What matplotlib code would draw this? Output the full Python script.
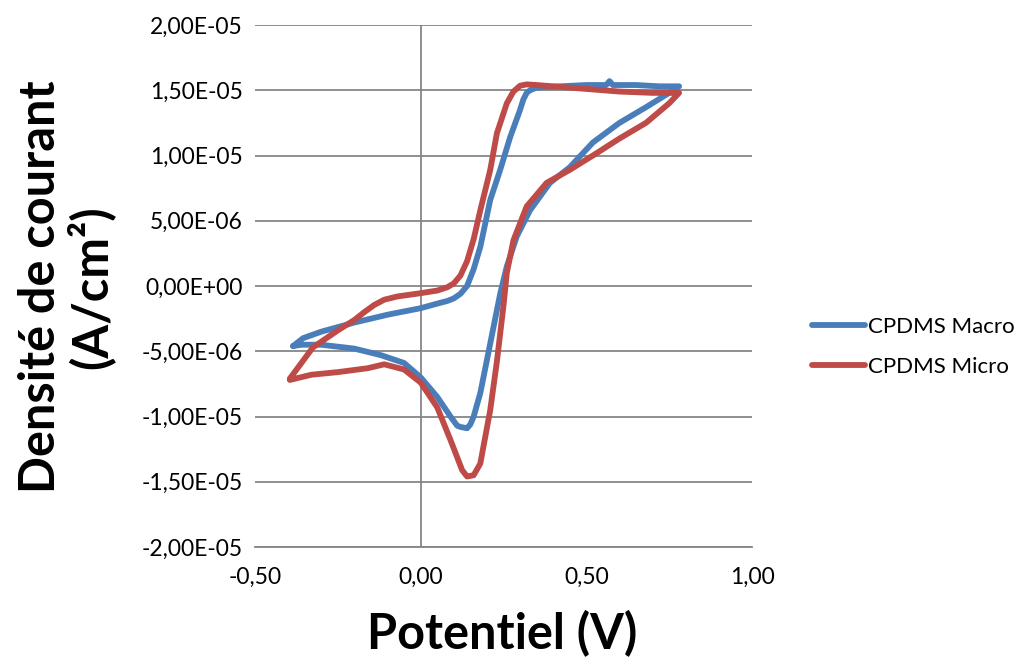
import matplotlib
matplotlib.use("Agg")
import matplotlib.pyplot as plt
from matplotlib.ticker import FuncFormatter, MultipleLocator
from matplotlib.lines import Line2D

plt.rcParams['font.family'] = ['Lato', 'DejaVu Sans']

# CPDMS Macro (blue) cyclic voltammogram, traced in order
macro_v = [-0.385, -0.355, -0.30, -0.20, -0.10, 0.00, 0.05, 0.08, 0.10, 0.12, 0.14, 0.16, 0.18, 0.21,
           0.24, 0.27, 0.30, 0.31, 0.32, 0.33, 0.35, 0.42, 0.50, 0.56, 0.57, 0.58, 0.65, 0.72, 0.78,
           0.75, 0.68, 0.60, 0.52, 0.45, 0.39, 0.33, 0.29, 0.26, 0.24, 0.21, 0.18, 0.16,
           0.15, 0.14, 0.12, 0.11, 0.09, 0.05, 0.00, -0.05, -0.12, -0.20, -0.30, -0.36, -0.385]
macro_j = [-4.6e-6, -4.0e-6, -3.5e-6, -2.8e-6, -2.2e-6, -1.7e-6, -1.35e-6, -1.15e-6, -0.95e-6, -0.6e-6,
           0.0e-6, 1.3e-6, 3.0e-6, 6.6e-6, 8.9e-6, 11.4e-6, 13.5e-6, 14.3e-6, 14.8e-6, 15.0e-6,
           15.2e-6, 15.3e-6, 15.4e-6, 15.4e-6, 15.7e-6, 15.4e-6, 15.4e-6, 15.3e-6, 15.3e-6,
           14.8e-6, 13.7e-6, 12.5e-6, 11.0e-6, 9.1e-6, 7.9e-6, 5.8e-6, 3.8e-6, 1.5e-6, -0.6e-6,
           -4.4e-6, -8.2e-6, -10.0e-6, -10.6e-6, -10.9e-6, -10.8e-6, -10.7e-6, -10.0e-6, -8.5e-6,
           -7.0e-6, -5.9e-6, -5.3e-6, -4.8e-6, -4.5e-6, -4.5e-6, -4.6e-6]

# CPDMS Micro (red) cyclic voltammogram, traced in order
micro_v = [-0.395, -0.36, -0.325, -0.25, -0.20, -0.17, -0.14, -0.11, -0.07, 0.00, 0.05, 0.08,
           0.10, 0.12, 0.14, 0.16, 0.18, 0.21, 0.23, 0.26, 0.28, 0.30, 0.32, 0.35, 0.45, 0.60,
           0.70, 0.78,
           0.75, 0.68, 0.60, 0.52, 0.45, 0.38, 0.32, 0.28, 0.26, 0.25, 0.23, 0.21, 0.18, 0.16,
           0.14, 0.125, 0.09, 0.05, 0.00, -0.05, -0.11, -0.16, -0.25, -0.33, -0.395]
micro_j = [-7.1e-6, -5.9e-6, -4.7e-6, -3.4e-6, -2.6e-6, -2.0e-6, -1.45e-6, -1.05e-6, -0.8e-6,
           -0.55e-6, -0.35e-6, -0.1e-6, 0.2e-6, 0.8e-6, 1.9e-6, 3.6e-6, 5.8e-6, 8.9e-6, 11.7e-6,
           14.0e-6, 14.9e-6, 15.35e-6, 15.45e-6, 15.4e-6, 15.2e-6, 14.9e-6, 14.8e-6, 14.8e-6,
           14.0e-6, 12.5e-6, 11.3e-6, 10.0e-6, 8.9e-6, 7.9e-6, 6.1e-6, 3.5e-6, 1.0e-6, -1.5e-6,
           -5.8e-6, -9.5e-6, -13.6e-6, -14.5e-6, -14.6e-6, -14.1e-6, -11.8e-6, -9.3e-6, -7.4e-6,
           -6.4e-6, -6.0e-6, -6.3e-6, -6.6e-6, -6.8e-6, -7.2e-6]

series_names = ["CPDMS Macro", "CPDMS Micro"]
colors = ["#4A7EBB", "#BE4B48"]

fig = plt.figure(figsize=(10.18, 6.64), dpi=100)
ax = fig.add_axes([255/1018, 1-547/664, (752-255)/1018, (547-25)/664])

ax.plot(macro_v, macro_j, color=colors[0], lw=4.2, solid_capstyle='round', solid_joinstyle='round', zorder=3)
ax.plot(micro_v, micro_j, color=colors[1], lw=4.2, solid_capstyle='round', solid_joinstyle='round', zorder=4)

ax.set_xlim(-0.5, 1.0)
ax.set_ylim(-2e-5, 2e-5)
ax.xaxis.set_major_locator(MultipleLocator(0.5))
ax.yaxis.set_major_locator(MultipleLocator(5e-6))

ax.yaxis.set_major_formatter(FuncFormatter(lambda v, p: ("%.2E" % v).replace('.', ',').replace('-0,00', '0,00')))
ax.xaxis.set_major_formatter(FuncFormatter(lambda v, p: ("%.2f" % v).replace('.', ',')))

ax.grid(axis='y', color='#868686', lw=1.3)
ax.set_axisbelow(True)
for s in ['top', 'right', 'left']:
    ax.spines[s].set_visible(False)
ax.spines['bottom'].set_color('#868686')
ax.spines['bottom'].set_linewidth(1.3)
ax.axvline(0, color='#868686', lw=1.3, zorder=1)
ax.tick_params(axis='both', length=0, labelsize=16.5, colors='black')
ax.tick_params(axis='y', pad=9)
ax.tick_params(axis='x', pad=14)

fig.text(502/1018, 1-634/664, "Potentiel (V)", ha='center', va='center', fontsize=35, fontweight='bold')
fig.text(66/1018, 1-287/664, "Densité de courant\n(A/cm²)", ha='center', va='center', rotation=90,
         fontsize=35, fontweight='bold', linespacing=1.05)

handles = [Line2D([0], [0], color=c, lw=4.2, solid_capstyle='round') for c in colors]
fig.legend(handles, series_names, loc='center left', bbox_to_anchor=(792/1018, 1-347/664),
           frameon=False, fontsize=16, handlelength=2.4, handletextpad=0.1, labelspacing=0.9)

fig.savefig("out.png", dpi=100)
